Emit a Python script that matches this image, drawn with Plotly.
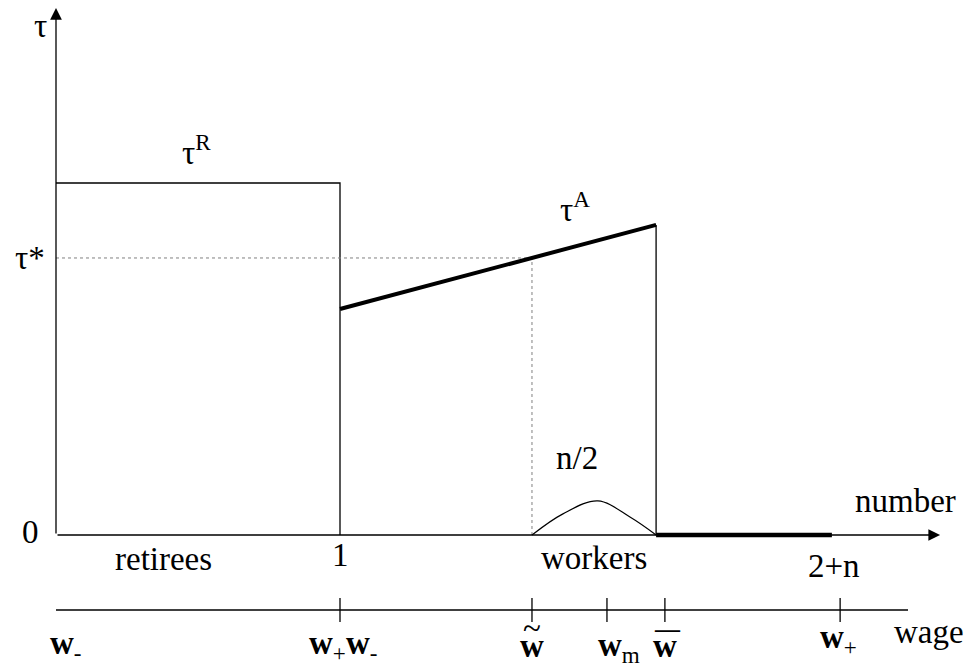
"""
Schematic: tax rate preferred by retirees and workers against population number and wage.
"""

import plotly.graph_objects as go

W, H = 970, 669

# diagram units: number axis (retirees = 0..1), tax rate axis (tau^R = 1)
tau_R = 1.0
tau_star = 0.787
retirees_end = 1.0
tauA_x = [1.0, 2.113]
tauA_y = [0.642, 0.881]
w_tilde = 1.676
w_bar_number = 2.113
total_number = 2.732          # 2+n
hump_x = [1.676, 1.785, 1.908, 2.021, 2.113]
hump_y = [0.0, 0.060, 0.097, 0.051, 0.0]

tau_axis_top = 1.497
number_axis_end = 3.113
wage_axis_end = 3.0
wage_axis_y = -0.213
wage_ticks = [1.0, 1.676, 1.940, 2.144, 2.761]

# pixel scale of the diagram units
X0, XU = 56, 284
Y0, YU = 535, 352

FONT = 'Liberation Serif, Times New Roman, serif'
FS = 33


def at(px, py):
    return px / W, 1 - py / H


fig = go.Figure()

thin = dict(color='black', width=1.3)

# tau^R box
fig.add_trace(go.Scatter(x=[0, retirees_end, retirees_end], y=[tau_R, tau_R, 0],
                         mode='lines', line=thin))
# tau* dotted guides
fig.add_trace(go.Scatter(x=[0, w_tilde, w_tilde], y=[tau_star, tau_star, 0],
                         mode='lines', line=dict(color='#808080', width=1, dash='dot')))
# tau^A thick line
fig.add_trace(go.Scatter(x=tauA_x, y=tauA_y, mode='lines',
                         line=dict(color='black', width=4)))
# right edge of workers
fig.add_trace(go.Scatter(x=[w_bar_number, w_bar_number], y=[tauA_y[1], 0],
                         mode='lines', line=thin))
# n/2 hump
fig.add_trace(go.Scatter(x=hump_x, y=hump_y, mode='lines',
                         line=dict(color='black', width=1.2, shape='spline')))
# thick bottom segment
fig.add_trace(go.Scatter(x=[w_bar_number, total_number], y=[0, 0], mode='lines',
                         line=dict(color='black', width=4.5)))
# wage axis with ticks
fig.add_trace(go.Scatter(x=[0, wage_axis_end], y=[wage_axis_y, wage_axis_y],
                         mode='lines', line=thin))
fig.add_trace(go.Scatter(x=wage_ticks, y=[wage_axis_y] * len(wage_ticks), mode='markers',
                         marker=dict(symbol='line-ns', size=17,
                                     line=dict(color='black', width=1.3))))

annotations = []
# axis arrows
for tip, tail in [((0, tau_axis_top), (0, 0)), ((number_axis_end, 0), (0, 0))]:
    annotations.append(dict(x=tip[0], y=tip[1], ax=tail[0], ay=tail[1],
                            xref='x', yref='y', axref='x', ayref='y', text='',
                            showarrow=True, arrowhead=2, arrowsize=1.8,
                            arrowwidth=1.3, arrowcolor='black', standoff=0,
                            startstandoff=0))

labels = [
    ('τ', 40, 26),
    ('τ<sup>R</sup>', 196, 150),
    ('τ*', 30, 258),
    ('τ<sup>A</sup>', 575, 207),
    ('0', 30, 532),
    ('retirees', 163, 559),
    ('1', 340, 555),
    ('workers', 594, 558),
    ('2+n', 834, 566),
    ('number', 905, 501),
    ('n/2', 577, 458),
    ('<b>w</b><sub>-</sub>', 66, 645),
    ('<b>w</b><sub>+</sub><b>w</b><sub>-</sub>', 343, 645),
    ('<b>w</b>', 532, 646),
    ('~', 532, 628),
    ('<b>w</b><sub>m</sub>', 619, 647),
    ('<b>w</b>', 665, 646),
    ('<b>—</b>', 667, 628),
    ('<b>w</b><sub>+</sub>', 838, 639),
    ('wage', 929, 632),
]
for text, px, py in labels:
    x, y = at(px, py)
    size = 25 if text == '<b>—</b>' else FS
    annotations.append(dict(x=x, y=y, xref='paper', yref='paper', text=text,
                            showarrow=False, xanchor='center', yanchor='middle',
                            font=dict(family=FONT, size=size, color='black')))

fig.update_layout(
    width=W, height=H,
    margin=dict(l=0, r=0, t=0, b=0),
    paper_bgcolor='white', plot_bgcolor='white',
    showlegend=False, hovermode=False,
    xaxis=dict(range=[-X0 / XU, (W - X0) / XU], visible=False, fixedrange=True),
    yaxis=dict(range=[-(H - Y0) / YU, Y0 / YU], visible=False, fixedrange=True),
    annotations=annotations,
)

# drop the default page margin so the figure sits at the window's corner
fig.write_html("out.html", config={'displayModeBar': False},
               post_script="document.body.style.margin='0';")
